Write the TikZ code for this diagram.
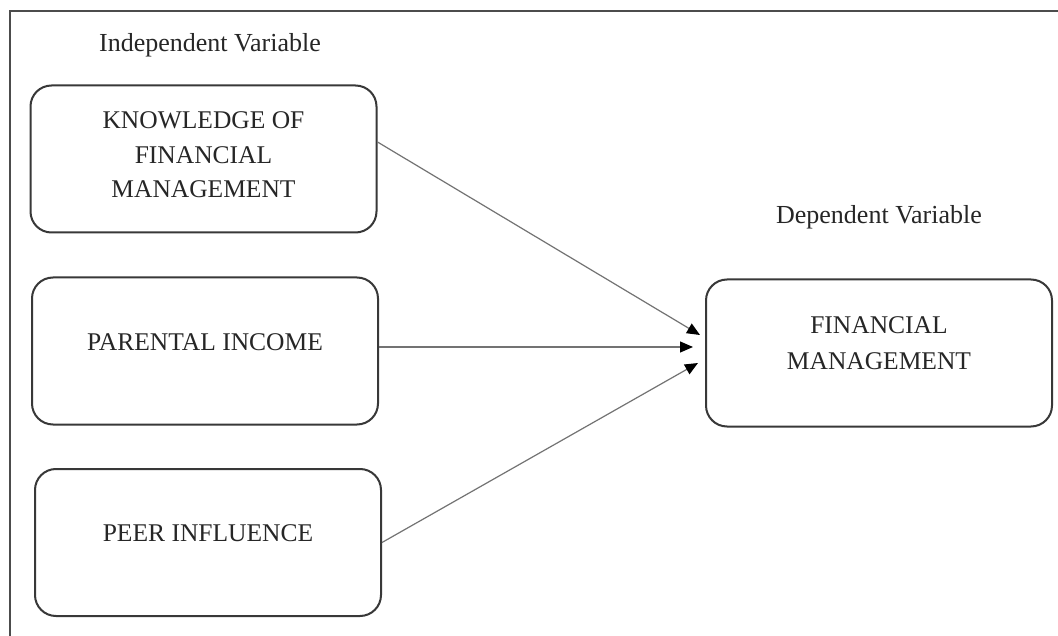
\documentclass[tikz,border=0pt]{standalone}
\usepackage{fontspec}
\setmainfont{Liberation Serif}
\usetikzlibrary{arrows.meta}

\tikzset{
  varbox/.style={draw=black!78, line width=2pt, rounded corners=21pt,
    align=center, inner sep=0pt, minimum width=346pt, minimum height=147pt,
    font=\fontsize{25.5}{34.5}\selectfont, text=black!85},
  heading/.style={font=\fontsize{26}{30}\selectfont, text=black!85, inner sep=0pt},
  link/.style={draw=black!55, line width=1.2pt,
    -{Triangle[length=13pt,width=11pt,black]}},
  frame/.style={draw=black!70, line width=2pt}
}

\begin{document}
\begin{tikzpicture}[x=1pt,y=-1pt]
  \useasboundingbox (0,0) rectangle (1058,636);
  \fill[white] (0,0) rectangle (1058,636);

  % open frame along the left and top
  \draw[frame] (9.5,636) -- (9.5,11) -- (1058,11);

  % headings
  \node[heading] (indep) at (210,45) {Independent Variable};
  \node[heading] (dep) at (879,217) {Dependent Variable};

  % independent variables
  \node[varbox, text depth=8pt] (know) at (203.5,159) {KNOWLEDGE OF\\FINANCIAL\\MANAGEMENT};
  \node[varbox, text depth=18pt] (income) at (205,351) {PARENTAL INCOME};
  \node[varbox, text depth=18pt] (peer) at (208,542.5) {PEER INFLUENCE};

  % dependent variable
  \node[varbox, text depth=20pt, font=\fontsize{25.5}{36}\selectfont] (fm) at (879,353) {FINANCIAL\\MANAGEMENT};

  % arrow tips stop just short of the dependent box
  \coordinate (t1) at (700,335);
  \coordinate (t2) at (693,347);
  \coordinate (t3) at (698,363);

  \draw[link] ([yshift=17pt]know.east) -- (t1);
  \draw[link] ([yshift=4pt]income.east) -- (t2);
  \draw[link] (peer.east) -- (t3);
\end{tikzpicture}
\end{document}
